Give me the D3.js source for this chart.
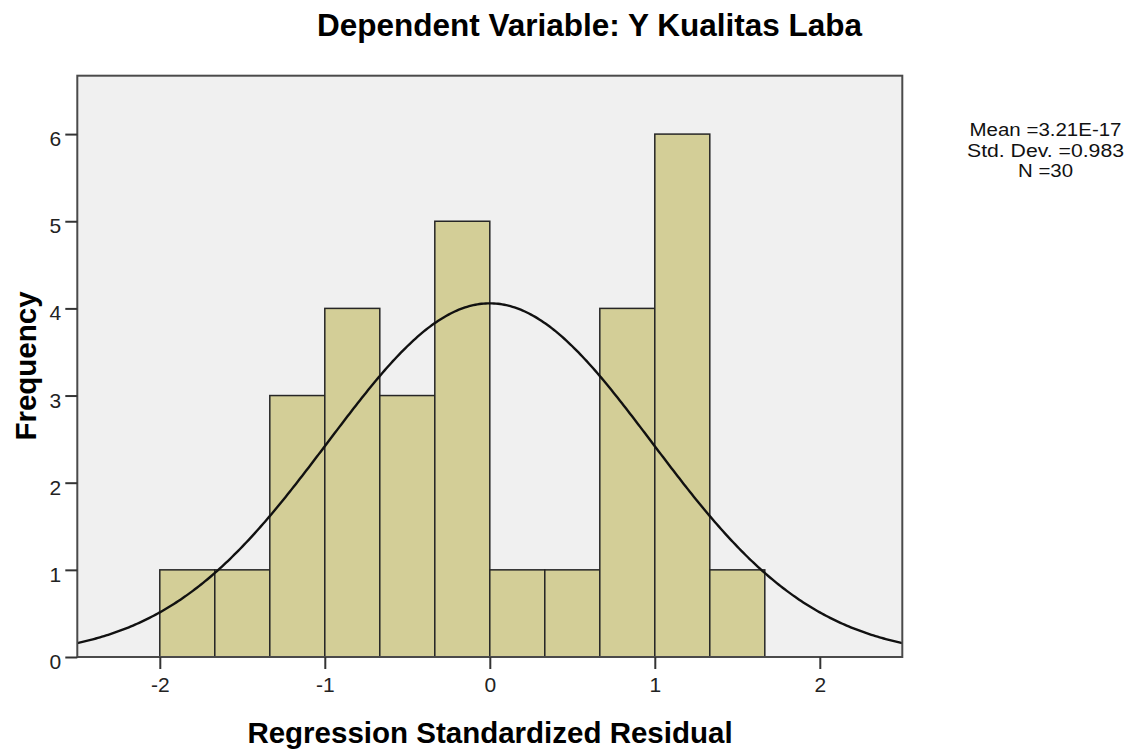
<!DOCTYPE html>
<html>
<head>
<meta charset="utf-8">
<script src="https://cdn.jsdelivr.net/npm/d3@7"></script>
<style>
  html, body { margin: 0; padding: 0; background: #fff; }
  svg { display: block; font-family: "Liberation Sans", Arial, sans-serif; }
</style>
</head>
<body>
<svg id="chart" width="1143" height="751"></svg>
<script>
// ---- Data ----
const binLower = [-2.0, -1.6667, -1.3333, -1.0, -0.6667, -0.3333, 0.0, 0.3333, 0.6667, 1.0, 1.3333];
const binUpper = [-1.6667, -1.3333, -1.0, -0.6667, -0.3333, 0.0, 0.3333, 0.6667, 1.0, 1.3333, 1.6667];
const counts   = [1, 1, 3, 4, 3, 5, 1, 1, 4, 6, 1];
const xTicks = [-2, -1, 0, 1, 2];
const yTicks = [0, 1, 2, 3, 4, 5, 6];
const statMean = 3.21e-17;
const statSD = 0.983;
const statN = 30;
const statLines = ["Mean =3.21E-17", "Std. Dev. =0.983", "N =30"];
const titleText = "Dependent Variable: Y Kualitas Laba";
const xLabel = "Regression Standardized Residual";
const yLabel = "Frequency";

// ---- Layout ----
const svg = d3.select("#chart");
const pLeft = 77.3, pRight = 902.3, pTop = 75.7, pBottom = 657;
const x = d3.scaleLinear().domain([-2.5, 2.5]).range([pLeft, pRight]);
const y = d3.scaleLinear().domain([0, 6.67]).range([pBottom, pTop]);

// background
svg.append("rect").attr("x", pLeft).attr("y", pTop)
  .attr("width", pRight - pLeft).attr("height", pBottom - pTop)
  .attr("fill", "#f0f0f0");

// bars
svg.append("g").selectAll("rect").data(counts).join("rect")
  .attr("x", (d, i) => x(binLower[i]))
  .attr("width", (d, i) => x(binUpper[i]) - x(binLower[i]))
  .attr("y", d => y(d))
  .attr("height", d => y(0) - y(d))
  .attr("fill", "#d3ce97")
  .attr("stroke", "#262626")
  .attr("stroke-width", 1.5);

// normal curve (from reported mean, sd, N and bin width)
const bw = binUpper[0] - binLower[0];
const pdf = v => Math.exp(-0.5 * Math.pow((v - statMean) / statSD, 2)) / (statSD * Math.sqrt(2 * Math.PI));
const curvePts = d3.range(0, 401).map(i => {
  const v = -2.5 + i * 5 / 400;
  return [v, statN * bw * pdf(v)];
});
svg.append("path").datum(curvePts)
  .attr("fill", "none").attr("stroke", "#111").attr("stroke-width", 2.4)
  .attr("d", d3.line().x(d => x(d[0])).y(d => y(d[1])));

// frame
svg.append("rect").attr("x", pLeft).attr("y", pTop)
  .attr("width", pRight - pLeft).attr("height", pBottom - pTop)
  .attr("fill", "none").attr("stroke", "#4a4a4a").attr("stroke-width", 2);

// axes
const xAxis = d3.axisBottom(x).tickValues(xTicks).tickSize(12).tickPadding(8)
  .tickFormat(d => String(d));
const gx = svg.append("g").attr("transform", `translate(0,${pBottom})`).call(xAxis);
gx.select(".domain").remove();
gx.selectAll(".tick line").attr("stroke", "#333").attr("stroke-width", 2);
gx.selectAll(".tick text").attr("font-size", 21).attr("fill", "#222")
  .attr("font-family", "Liberation Sans, Arial, sans-serif");

const yAxis = d3.axisLeft(y).tickValues(yTicks).tickSize(12).tickPadding(4)
  .tickFormat(d => String(d));
const gy = svg.append("g").attr("transform", `translate(${pLeft},0)`).call(yAxis);
gy.select(".domain").remove();
gy.selectAll(".tick line").attr("stroke", "#333").attr("stroke-width", 2);
gy.selectAll(".tick text").attr("font-size", 21).attr("fill", "#222").attr("dy", "0.55em")
  .attr("font-family", "Liberation Sans, Arial, sans-serif");

// title
svg.append("text").attr("x", 589.5).attr("y", 35.5).attr("text-anchor", "middle")
  .attr("font-size", 31.5).attr("font-weight", "bold").attr("fill", "#000").text(titleText);

// axis labels
svg.append("text").attr("x", 490).attr("y", 743).attr("text-anchor", "middle")
  .attr("font-size", 29.5).attr("font-weight", "bold").attr("fill", "#000").text(xLabel);
svg.append("text").attr("transform", "translate(36,366) rotate(-90)").attr("text-anchor", "middle")
  .attr("font-size", 29.5).attr("font-weight", "bold").attr("fill", "#000").text(yLabel);

// stats box
const statWidths = [152, 157, 55];
svg.append("g").selectAll("text").data(statLines).join("text")
  .attr("x", 1045.5).attr("y", (d, i) => 136 + i * 20.5)
  .attr("text-anchor", "middle").attr("font-size", 17.5).attr("fill", "#111")
  .attr("textLength", (d, i) => statWidths[i]).attr("lengthAdjust", "spacingAndGlyphs")
  .text(d => d);
</script>
</body>
</html>
